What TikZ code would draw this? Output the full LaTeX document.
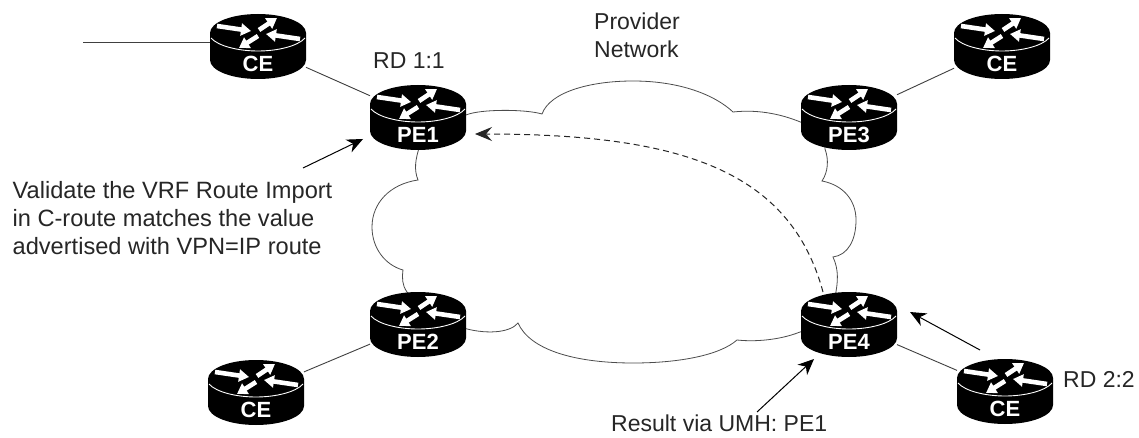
\documentclass[tikz,border=0pt]{standalone}
\usepackage{fontspec}
\setmainfont{Liberation Sans}
\usetikzlibrary{arrows.meta}
\pgfdeclarelayer{behind}
\pgfsetlayers{behind,main}
\tikzset{
  rbox/.style={rectangle,minimum width=96pt,minimum height=64pt,inner sep=0pt,outer sep=0pt},
  rlabel/.style={text=white,font=\fontsize{22}{22}\selectfont\bfseries,inner sep=0pt,yshift=-18pt},
  rarrow/.style={white,line width=4.6pt,-{Triangle[length=10pt,width=12pt]}},
  wire/.style={draw=black!75,line width=0.9pt},
  cloudline/.style={draw=black!70,line width=0.8pt},
  callout/.style={black,line width=1pt,-{Stealth[length=16pt,width=14pt,inset=5pt]}},
  dashedflow/.style={black!85,line width=1pt,dash pattern=on 6pt off 4pt,-{Stealth[length=17pt,width=14pt,inset=6pt]}},
  txt/.style={font=\fontsize{23}{28}\selectfont,inner sep=0pt,anchor=west,text=black!85,align=left},
  txtbig/.style={txt,font=\fontsize{23.6}{28.4}\selectfont},
}
\newcommand{\routerart}[4]{% name, cx, cy, label
  \begin{scope}[shift={(#2,#3)}]
    \fill[black] (-48,0) -- (-48,27) .. controls (-48,37.5) and (-26.5,46) .. (0,46)
      .. controls (26.5,46) and (48,37.5) .. (48,27) -- (48,0) -- cycle;
    \fill[black] (0,0) ellipse [x radius=48,y radius=19];
    \draw[white,line width=0.9pt] (-47,5) .. controls (-40,13) and (-20,18) .. (0,18)
      .. controls (20,18) and (40,13) .. (47,5);
    \draw[rarrow] (-41,-7) -- (-7,-2);
    \draw[rarrow] (1,-3) -- (19,-15);
    \draw[rarrow] (42,6) -- (8,1);
    \draw[rarrow] (0,3) -- (-19,15);
    \node[rbox,label={[rlabel]center:#4}] (#1) at (0,13) {};
  \end{scope}
}
\begin{document}
\begin{tikzpicture}[x=1pt,y=-1pt]
\useasboundingbox (0,0) rectangle (1139,438);
\routerart{ceA}{258}{33}{CE}
\routerart{peA}{418}{104}{PE1}
\routerart{peB}{418}{311}{PE2}
\routerart{peC}{849}{104}{PE3}
\routerart{peD}{849}{311}{PE4}
\routerart{ceB}{256}{379}{CE}
\routerart{ceC}{1002}{33}{CE}
\routerart{ceD}{1005}{378}{CE}
\coordinate (stub) at (83,42);
\begin{pgfonlayer}{behind}
  \fill[white] (0,0) rectangle (1139,438);
  \draw[wire] (stub) -- (stub -| ceA);
  \draw[wire] (ceA) -- (peA);
  \draw[wire] (peB) -- (ceB);
  \draw[wire] (peC) -- (ceC);
  \draw[wire] (peD) -- (ceD);
  \draw[cloudline] (440,120) -- (466,115) .. controls (480,109) and (525,109) .. (542,114)
    .. controls (550,92) and (590,81) .. (633,81)
    .. controls (680,81) and (715,95) .. (733,112)
    .. controls (760,109) and (785,115) .. (805,124);
  \draw[cloudline] (825,140) -- (825,149) .. controls (829,160) and (828,172) .. (822,181)
    .. controls (843,185) and (856,200) .. (856,220)
    .. controls (856,240) and (848,255) .. (833,257)
    .. controls (839,270) and (838,282) .. (835,297);
  \draw[cloudline] (810,330) -- (800,332) .. controls (780,340) and (755,342) .. (737,340)
    .. controls (720,355) and (680,363) .. (633,363)
    .. controls (575,363) and (530,350) .. (518,323)
    .. controls (510,333) and (485,335) .. (460,327);
  \draw[cloudline] (410,300) -- (407,292) .. controls (402,285) and (402,278) .. (403,270)
    .. controls (385,265) and (372,248) .. (372,227)
    .. controls (372,203) and (390,184) .. (418,180)
    .. controls (414,170) and (415,160) .. (420,145);
\end{pgfonlayer}
\coordinate (dashS) at (823,292);
\coordinate (dashE) at (475,134);
\draw[dashedflow] (dashS) .. controls (790,170) and (680,134) .. (dashE);
\coordinate (t1) at (303,168); \coordinate (h1) at (363,139);
\draw[callout] (t1) -- (h1);
\coordinate (t2) at (757,412); \coordinate (h2) at (814,359);
\draw[callout] (t2) -- (h2);
\coordinate (t3) at (980,350); \coordinate (h3) at (910,312);
\draw[callout] (t3) -- (h3);
\node[txt] (prov) at (594,35) {Provider\\Network};
\node[txt] (rda) at (373,61) {RD 1:1};
\node[txt] (rdb) at (1063,379) {RD 2:2};
\node[txt] (res) at (611,423) {Result via UMH: PE1};
\node[txtbig] (val) at (12.5,218) {Validate the VRF Route Import\\in C-route matches the value\\advertised with VPN=IP route};
\end{tikzpicture}
\end{document}
